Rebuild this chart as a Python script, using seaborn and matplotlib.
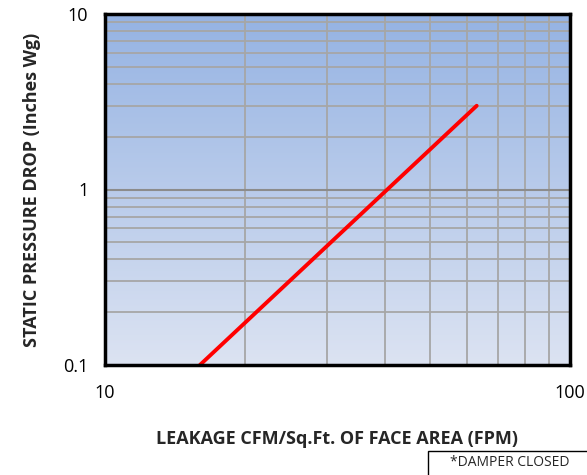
import matplotlib
matplotlib.use("Agg")
import matplotlib.pyplot as plt
import numpy as np
import pandas as pd
import seaborn as sns
from matplotlib.colors import LinearSegmentedColormap
from matplotlib.patches import Rectangle
from matplotlib.ticker import NullFormatter

# leakage curve
leakage_fpm = [16.0, 63.0]
pressure_drop = [0.1, 3.0]

x_ticks = [10, 100]
y_ticks = [0.1, 1, 10]
y_tick_labels = ["0.1", "1", "10"]

sns.set_theme(style="white")
plt.rcParams["font.family"] = ["Open Sans", "DejaVu Sans"]

df = pd.DataFrame({"fpm": leakage_fpm, "pressure": pressure_drop})

fig = plt.figure(figsize=(5.87, 4.75), dpi=100)
ax = fig.add_axes([105 / 587, 1 - 365 / 475, 465 / 587, 351 / 475])

# gradient background (dark blue at top to pale at bottom)
cmap = LinearSegmentedColormap.from_list("bg", ["#DCE3F2", "#95B3E3"])
grad = np.linspace(0, 1, 256).reshape(-1, 1)
ax.imshow(grad, cmap=cmap, aspect="auto", extent=[0, 1, 0, 1],
          origin="lower", transform=ax.transAxes, zorder=0)

ax.set_xscale("log")
ax.set_yscale("log")
ax.set_xlim(10, 100)
ax.set_ylim(0.1, 10)

ax.grid(True, which="both", color="#A6A6A6", linewidth=1.3, zorder=1)
ax.axhline(1, color="#8C8C8C", linewidth=1.5, zorder=1)

sns.lineplot(data=df, x="fpm", y="pressure", color="#FF0000",
             linewidth=2.8, ax=ax, zorder=3)

ax.set_xticks(x_ticks)
ax.set_xticklabels([str(t) for t in x_ticks])
ax.set_yticks(y_ticks)
ax.set_yticklabels(y_tick_labels)
ax.xaxis.set_minor_formatter(NullFormatter())
ax.yaxis.set_minor_formatter(NullFormatter())
ax.tick_params(axis="both", which="both", length=0, labelsize=13,
               colors="black")
ax.tick_params(axis="x", pad=14)
ax.tick_params(axis="y", pad=12)

ax.set_xlabel("LEAKAGE CFM/Sq.Ft. OF FACE AREA (FPM)", fontsize=13,
              fontweight="bold", labelpad=20)
ax.set_ylabel("STATIC PRESSURE DROP (Inches Wg)", fontsize=13,
              fontweight="bold", labelpad=16)

for s in ax.spines.values():
    s.set_visible(True)
    s.set_color("black")
    s.set_linewidth(2.5)
    s.set_zorder(4)

# note box at the bottom right
fig.patches.append(Rectangle((428 / 587, -0.01), 160 / 587, 24 / 475 + 0.01,
                             transform=fig.transFigure, fill=False,
                             edgecolor="black", linewidth=1.0))
fig.text(510 / 587, 1 - 463 / 475, "*DAMPER CLOSED", ha="center",
         va="center", fontsize=10)

fig.savefig("out.png", dpi=100)
